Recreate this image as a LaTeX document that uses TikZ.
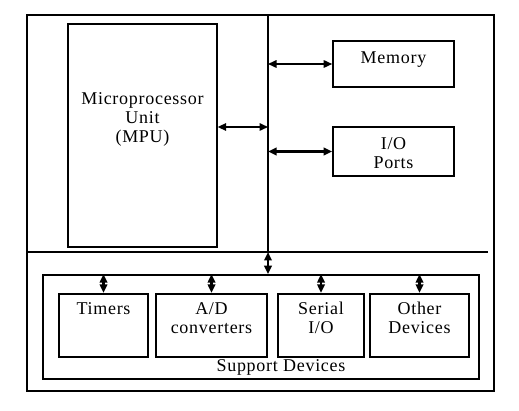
\documentclass[tikz,border=0pt]{standalone}
\usepackage{fontspec}
\setmainfont{Liberation Serif}[LetterSpace=4]
\usepackage{tikz}
\usetikzlibrary{arrows.meta}

\tikzset{
  box/.style={draw,line width=1.6pt,inner sep=0pt},
  subbox/.style={draw,line width=2.4pt,inner sep=0pt,minimum height=63pt},
  lbl/.style={anchor=north,align=center,yshift=-6pt},
  arr/.style={<->,line width=1.6pt},
}

\begin{document}
\begin{tikzpicture}[x=1pt,y=-1pt,>={Triangle[length=8.5pt,width=7.5pt]},
  font=\fontsize{18pt}{19pt}\selectfont]
\useasboundingbox (0,0) rectangle (519,411);
% frame and bus
\draw[line width=2pt] (27,15) rectangle (494,391);
\coordinate (bustop) at (268,15);
\coordinate (busbot) at (268,252);
\draw[line width=2.2pt] (bustop) -- (busbot);
\draw[line width=2.2pt] (27,252) -- (488,252);
\coordinate (b1) at (268,127);
% upper units
\node[box,line width=1.3pt,minimum width=149pt,minimum height=223pt,
  label={[lbl,yshift=-60pt]north:Microprocessor\\Unit\\(MPU)}] (mpu) at (142.5,135.5) {};
\node[box,minimum width=121pt,minimum height=46pt,
  label={[lbl,yshift=-2pt]north:Memory}] (mem) at (393.5,64) {};
\node[box,minimum width=121pt,minimum height=49pt,
  label={[lbl,yshift=-2pt]north:I/O\\Ports}] (io) at (393.5,151.5) {};
\draw[arr] (mpu.east |- b1) -- (b1);
\draw[arr] (bustop |- mem.west) -- (mem.west);
\draw[arr,line width=2.6pt] (bustop |- io.west) -- (io.west);
% support devices
\node[box,minimum width=436pt,minimum height=104pt] (sup) at (261,327) {};
\node[anchor=base] (suptxt) at (281,371) {Support Devices};
\node[subbox,minimum width=89pt,label={[lbl]north:Timers}] (tim) at (103.5,325.5) {};
\node[subbox,minimum width=111pt,label={[lbl]north:A/D\\converters}] (adc) at (211.5,325.5) {};
\node[subbox,minimum width=86pt,label={[lbl]north:Serial\\I/O}] (ser) at (321,325.5) {};
\node[subbox,minimum width=99pt,label={[lbl]north:Other\\Devices}] (oth) at (419.5,325.5) {};
\draw[arr,line width=2.2pt] (busbot) -- (busbot |- sup.north);
\foreach \d in {tim,adc,ser,oth}
  \draw[arr,line width=2.2pt] (\d.north |- sup.north) -- (\d.north);
\end{tikzpicture}
\end{document}
